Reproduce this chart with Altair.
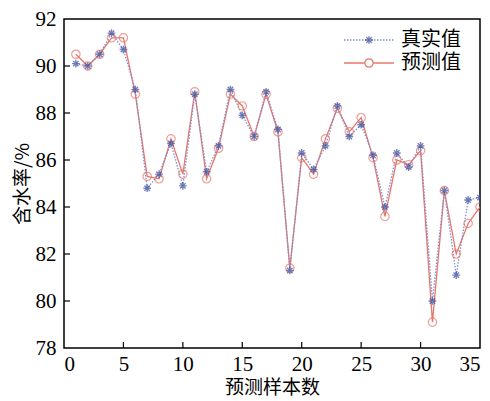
import altair as alt
import pandas as pd

samples = list(range(1, 36))
true_vals = [90.1, 90.0, 90.5, 91.4, 90.7, 89.0, 84.8, 85.4, 86.7, 84.9, 88.8, 85.5, 86.6, 89.0,
             87.9, 87.0, 88.9, 87.3, 81.3, 86.3, 85.6, 86.6, 88.3, 87.0, 87.5, 86.2, 84.0, 86.3,
             85.7, 86.6, 80.0, 84.7, 81.1, 84.3, 84.4]
pred_vals = [90.5, 90.0, 90.5, 91.2, 91.2, 88.8, 85.3, 85.2, 86.9, 85.4, 88.9, 85.2, 86.5, 88.8,
             88.3, 87.0, 88.8, 87.2, 81.4, 86.1, 85.4, 86.9, 88.2, 87.2, 87.8, 86.1, 83.6, 86.0,
             85.8, 86.4, 79.1, 84.7, 82.0, 83.3, 84.0]
x_ticks = [0, 5, 10, 15, 20, 25, 30, 35]
y_ticks = [78, 80, 82, 84, 86, 88, 90, 92]

W, H = 416, 329
NUMFONT = "Liberation Serif"
CJKFONT = "Noto Sans CJK SC"
BLUE = "#3b4f9e"
BLUE_LINE = "#7f8fd0"
RED = "#e8766a"
STAR = "M0,-1L0,1M-1,0L1,0M-0.7,-0.7L0.7,0.7M-0.7,0.7L0.7,-0.7"

df = pd.DataFrame({"x": samples, "t": true_vals, "p": pred_vals})

xs = alt.Scale(domain=[0, 35], nice=False, zero=False)
ys = alt.Scale(domain=[78, 92], nice=False, zero=False)

xax = alt.Axis(values=x_ticks, title="预测样本数", labelPadding=5, titlePadding=4)
yax = alt.Axis(values=y_ticks, title="含水率/%", labelPadding=8, titlePadding=3)

base = alt.Chart(df)
pred_line = base.mark_line(color=RED, strokeWidth=1.3, clip=True).encode(
    x=alt.X("x:Q", scale=xs, axis=xax), y=alt.Y("p:Q", scale=ys, axis=yax))
true_line = base.mark_line(color=BLUE_LINE, strokeWidth=1.3, strokeDash=[1.5, 1.5], clip=True).encode(
    x=alt.X("x:Q", scale=xs, axis=xax), y=alt.Y("t:Q", scale=ys, axis=yax))
pred_pts = base.mark_point(shape="circle", size=70, filled=False, color=RED, strokeWidth=1.2,
                           clip=True).encode(x=alt.X("x:Q", scale=xs, axis=xax),
                                             y=alt.Y("p:Q", scale=ys, axis=yax))
true_pts = base.mark_point(shape=STAR, size=60, filled=False, color=BLUE, strokeWidth=1.4,
                           clip=True).encode(x=alt.X("x:Q", scale=xs, axis=xax),
                                             y=alt.Y("t:Q", scale=ys, axis=yax))

ytick_df = pd.DataFrame({"v": y_ticks[1:-1]})
xtick_df = pd.DataFrame({"v": x_ticks[1:-1]})
yticks = alt.Chart(ytick_df).mark_rule(color="black", strokeWidth=1.2).encode(
    x=alt.value(0), x2=alt.value(6), y=alt.Y("v:Q", scale=ys, axis=yax))
xticks = alt.Chart(xtick_df).mark_rule(color="black", strokeWidth=1.2).encode(
    x=alt.X("v:Q", scale=xs, axis=xax), y=alt.value(H), y2=alt.value(H - 6))

one = pd.DataFrame({"a": [0]})
lx1, lx2, ltx = 280, 330, 337
ly1, ly2 = 21, 44
leg = [
    alt.Chart(one).mark_rule(color=BLUE_LINE, strokeWidth=1.3, strokeDash=[1.5, 1.5]).encode(
        x=alt.value(lx1), x2=alt.value(lx2), y=alt.value(ly1)),
    alt.Chart(one).mark_point(shape=STAR, size=60, filled=False, color=BLUE, strokeWidth=1.4).encode(
        x=alt.value((lx1 + lx2) / 2), y=alt.value(ly1)),
    alt.Chart(pd.DataFrame({"t": ["真实值"]})).mark_text(align="left", baseline="middle",
                                                      fontSize=20, color="black", font=CJKFONT).encode(
        x=alt.value(ltx), y=alt.value(ly1), text="t:N"),
    alt.Chart(one).mark_rule(color=RED, strokeWidth=1.3).encode(
        x=alt.value(lx1), x2=alt.value(lx2), y=alt.value(ly2)),
    alt.Chart(one).mark_point(shape="circle", size=70, filled=True, fill="white", stroke=RED,
                              strokeWidth=1.2, opacity=1).encode(
        x=alt.value((lx1 + lx2) / 2), y=alt.value(ly2)),
    alt.Chart(pd.DataFrame({"t": ["预测值"]})).mark_text(align="left", baseline="middle",
                                                      fontSize=20, color="black", font=CJKFONT).encode(
        x=alt.value(ltx), y=alt.value(ly2), text="t:N"),
]

chart = alt.layer(pred_line, true_line, pred_pts, true_pts, yticks, xticks, *leg).properties(
    width=W, height=H,
    autosize=alt.AutoSizeParams(type="none"),
    padding={"left": 56, "top": 11, "right": 2, "bottom": 53},
).configure(background="white").configure_view(stroke="black", strokeWidth=1.5).configure_axis(
    domain=False, ticks=False, grid=False,
    labelFont=NUMFONT, labelFontSize=21, labelColor="black",
    titleFont=CJKFONT, titleFontSize=19, titleFontWeight="normal", titleColor="black",
)

chart.save("out.html", embed_options={"renderer": "svg", "actions": False})
